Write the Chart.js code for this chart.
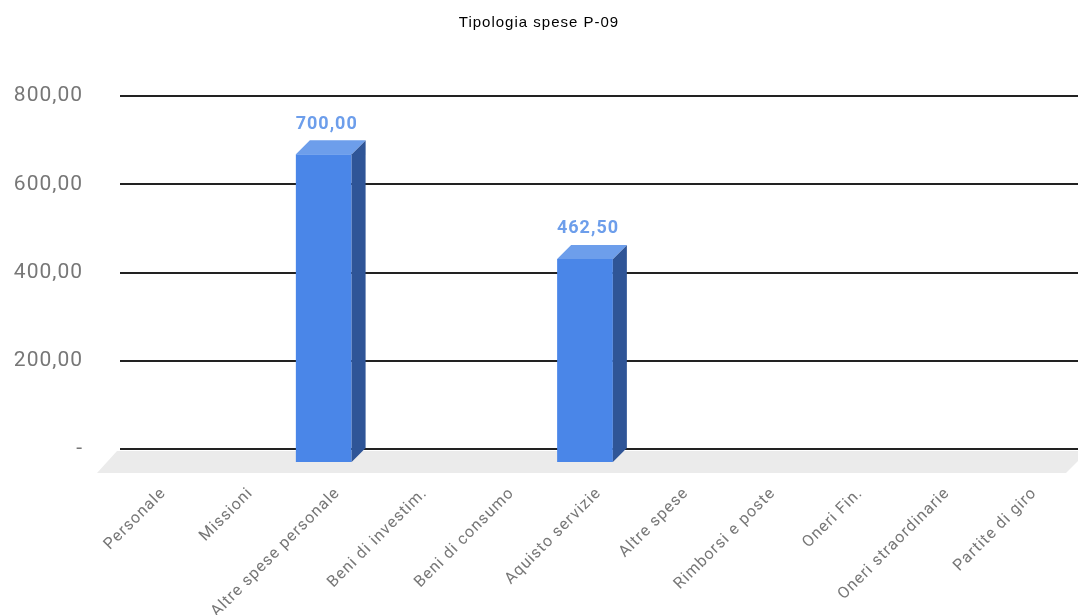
<!DOCTYPE html>
<html>
<head>
<meta charset="utf-8">
<script src="https://cdn.jsdelivr.net/npm/chart.js@4/dist/chart.umd.min.js"></script>
<style>
  html, body { margin: 0; padding: 0; background: #fff; }
  #wrap { width: 1078px; height: 615px; }
</style>
</head>
<body>
<div id="wrap"><canvas id="chart1" width="1078" height="615"></canvas></div>
<script>
var categories = ['Personale', 'Missioni', 'Altre spese personale', 'Beni di investim.', 'Beni di consumo',
	'Aquisto servizie', 'Altre spese', 'Rimborsi e poste', 'Oneri Fin.', 'Oneri straordinarie', 'Partite di giro'];
var spese = [0, 0, 700, 0, 0, 462.5, 0, 0, 0, 0, 0];
var yMin = 0, yMax = 800, yStep = 200;

var DEPTH = 14;

function fmt(v) {
	if (v === 0) return '-';
	return v.toFixed(2).replace('.', ',');
}

// the original text is a bit wider than the canvas fonts, so space the letters
var spacing = {
	id: 'spacing',
	beforeUpdate: function(chart) { chart.ctx.letterSpacing = '1px'; },
	beforeDraw: function(chart) { chart.ctx.letterSpacing = '1px'; }
};

// fake 3D: floor, shifted front face, side + top faces, value labels
var bar3d = {
	id: 'bar3d',
	beforeDatasetsDraw: function(chart) {
		var ctx = chart.ctx, a = chart.chartArea;
		var y0 = chart.scales.y.getPixelForValue(0);
		ctx.save();
		ctx.fillStyle = '#ebebeb';
		ctx.beginPath();
		ctx.moveTo(a.left - 3, y0 + 2);
		ctx.lineTo(a.right + 10, y0 + 2);
		ctx.lineTo(a.right - 12, y0 + 24);
		ctx.lineTo(a.left - 23, y0 + 24);
		ctx.closePath();
		ctx.fill();
		ctx.restore();
		ctx.save();
		ctx.translate(-DEPTH, DEPTH);
	},
	afterDatasetsDraw: function(chart) {
		var ctx = chart.ctx;
		ctx.restore();
		var meta = chart.getDatasetMeta(0);
		var data = chart.data.datasets[0].data;
		meta.data.forEach(function(el, i) {
			if (!data[i]) return;
			var p = el.getProps(['x', 'y', 'base', 'width'], true);
			var l = p.x - p.width / 2, r = p.x + p.width / 2;
			ctx.save();
			// side
			ctx.fillStyle = '#2f5597';
			ctx.beginPath();
			ctx.moveTo(r - DEPTH, p.y + DEPTH);
			ctx.lineTo(r, p.y);
			ctx.lineTo(r, p.base);
			ctx.lineTo(r - DEPTH, p.base + DEPTH);
			ctx.closePath();
			ctx.fill();
			// top
			ctx.fillStyle = '#6d9eeb';
			ctx.beginPath();
			ctx.moveTo(l - DEPTH, p.y + DEPTH);
			ctx.lineTo(l, p.y);
			ctx.lineTo(r, p.y);
			ctx.lineTo(r - DEPTH, p.y + DEPTH);
			ctx.closePath();
			ctx.fill();
			// value
			ctx.fillStyle = '#6d9eeb';
			ctx.font = 'bold 18px Roboto, Arial, sans-serif';
			ctx.textAlign = 'center';
			ctx.textBaseline = 'middle';
			ctx.fillText(fmt(data[i]), p.x - DEPTH + 3, p.y - 16);
			ctx.restore();
		});
	}
};

var ctx = document.getElementById('chart1').getContext('2d');
new Chart(ctx, {
	type: 'bar',
	data: {
		labels: categories,
		datasets: [{
			label: 'Spese',
			data: spese,
			backgroundColor: '#4a86e8',
			borderWidth: 0,
			categoryPercentage: 1,
			barPercentage: 0.64
		}]
	},
	options: {
		responsive: false,
		animation: false,
		layout: { padding: 0 },
		plugins: {
			legend: { display: false },
			tooltip: { enabled: false },
			title: {
				display: true,
				text: 'Tipologia spese P-09',
				color: '#000',
				font: { family: 'Arial, sans-serif', size: 15, weight: 'normal' },
				padding: { top: 14, bottom: 64 }
			}
		},
		scales: {
			x: {
				grid: { display: false, drawTicks: false },
				border: { display: false },
				ticks: {
					color: '#777',
					font: { family: 'Roboto, Arial, sans-serif', size: 16 },
					minRotation: 45,
					maxRotation: 45,
					autoSkip: false,
					padding: 35
				},
				afterFit: function(s) {
					s.height = 166;
					s.paddingRight = 0;
				}
			},
			y: {
				min: yMin,
				max: yMax,
				grid: { color: '#222', lineWidth: 2, drawTicks: false },
				border: { display: false },
				ticks: {
					stepSize: yStep,
					color: '#777',
					font: { family: 'Roboto, Arial, sans-serif', size: 21 },
					padding: 37,
					callback: function(v) { return fmt(v); }
				},
				afterFit: function(s) { s.width = 120; }
			}
		}
	},
	plugins: [spacing, bar3d]
});
</script>
</body>
</html>
